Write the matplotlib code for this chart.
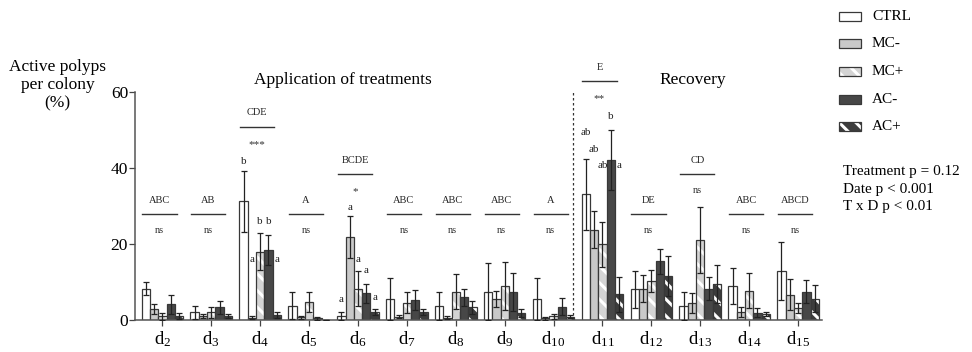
import numpy as np
import matplotlib
matplotlib.use("Agg")
import matplotlib.pyplot as plt
from matplotlib.patches import Rectangle

plt.rcParams['font.family'] = ['Liberation Serif', 'DejaVu Serif']
plt.rcParams['mathtext.fontset'] = 'custom'
plt.rcParams['mathtext.rm'] = 'Liberation Serif'
plt.rcParams['hatch.linewidth'] = 2.2

# ---------------- data ----------------
days = ['2', '3', '4', '5', '6', '7', '8', '9', '10', '11', '12', '13', '14', '15']
treatments = ['CTRL', 'MC-', 'MC+', 'AC-', 'AC+']

ctrl = [8.3, 2.0, 31.3, 3.8, 1.05, 5.6, 3.8, 7.5, 5.5, 33.1, 8.1, 3.8, 8.9, 12.9]
ctrl_err = [1.6, 1.8, 8.0, 3.5, 1.0, 5.5, 3.7, 7.4, 5.6, 9.3, 4.9, 3.7, 4.7, 7.7]
mc_neg = [2.9, 1.0, 0.6, 0.7, 21.8, 0.8, 0.6, 5.5, 0.5, 23.8, 8.3, 4.4, 2.2, 6.7]
mc_neg_err = [1.2, 0.5, 0.4, 0.4, 5.5, 0.4, 0.4, 2.1, 0.4, 4.9, 3.6, 2.6, 1.3, 4.0]
mc_pos = [1.0, 2.0, 18.0, 4.8, 8.3, 4.6, 7.5, 8.9, 1.0, 19.9, 10.3, 21.1, 7.7, 3.2]
mc_pos_err = [0.9, 1.5, 4.8, 2.7, 4.7, 2.7, 4.6, 6.3, 0.7, 5.9, 2.9, 8.7, 4.6, 1.4]
ac_neg = [4.1, 3.3, 18.4, 0.5, 7.0, 5.3, 6.0, 7.4, 3.5, 42.1, 15.5, 8.3, 1.9, 7.5]
ac_neg_err = [2.5, 1.7, 4.0, 0.4, 2.6, 2.7, 2.3, 5.1, 2.2, 7.9, 3.3, 2.9, 1.2, 3.0]
ac_pos = [1.0, 1.0, 1.3, 0.0, 2.2, 2.1, 3.4, 1.8, 0.9, 6.8, 11.5, 9.5, 1.6, 5.6]
ac_pos_err = [0.8, 0.5, 0.8, 0.0, 0.8, 0.8, 1.7, 1.1, 0.5, 4.6, 5.3, 5.0, 0.6, 3.5]

group_letters = ['ABC', 'AB', 'CDE', 'A', 'BCDE', 'ABC', 'ABC', 'ABC', 'A', 'E',
                 'DE', 'CD', 'ABC', 'ABCD']
significance = ['ns', 'ns', '***', 'ns', '*', 'ns', 'ns', 'ns', 'ns', '**',
                'ns', 'ns', 'ns', 'ns']
bracket_y = [27.8, 27.8, 50.9, 27.8, 38.4, 27.8, 27.8, 27.8, 27.8, 62.9,
             27.8, 38.4, 27.8, 27.8]

# post-hoc letters: (day index, treatment index, letter, height)
posthoc = [(2, 0, 'b', 41.8), (2, 1, 'a', 16.0), (2, 2, 'b', 25.9), (2, 3, 'b', 25.9), (2, 4, 'a', 16.0),
           (4, 0, 'a', 5.3), (4, 1, 'a', 29.6), (4, 2, 'a', 16.0), (4, 3, 'a', 13.0), (4, 4, 'a', 5.8),
           (9, 0, 'ab', 49.4), (9, 1, 'ab', 45.0), (9, 2, 'ab', 40.6), (9, 3, 'b', 53.5), (9, 4, 'a', 40.8)]

stats_lines = ['Treatment p = 0.12', 'Date p < 0.001', 'T x D p < 0.01']

# ---------------- style ----------------
series = [ctrl, mc_neg, mc_pos, ac_neg, ac_pos]
errors = [ctrl_err, mc_neg_err, mc_pos_err, ac_neg_err, ac_pos_err]
faces = ['white', '#c9c9c9', '#d4d4d4', '#474747', '#3c3c3c']
hatches = [None, None, '\\\\', None, '\\\\']
edge = '#383838'

W, H = 972, 352
fig = plt.figure(figsize=(W / 100, H / 100), dpi=100)
ax_l, ax_r, ax_b, ax_t = 135, 822, 320, 92.3
ax = fig.add_axes([ax_l / W, 1 - ax_b / H, (ax_r - ax_l) / W, (ax_b - ax_t) / H])

x = np.arange(len(days))
bw = 0.17
for i, (vals, errs) in enumerate(zip(series, errors)):
    pos = x + (i - 2) * bw
    if hatches[i]:
        ax.bar(pos, vals, bw, color=faces[i], edgecolor='white', hatch=hatches[i],
               linewidth=0, zorder=2)
        ax.bar(pos, vals, bw, color='none', edgecolor=edge, linewidth=0.9, zorder=2.5)
    else:
        ax.bar(pos, vals, bw, color=faces[i], edgecolor=edge, linewidth=0.9, zorder=2)
    ax.errorbar(pos, vals, yerr=errs, fmt='none', ecolor='#222222', elinewidth=0.9,
                capsize=2.2, capthick=0.9, zorder=3)

ax.set_xlim(-0.56, 13.49)
ax.set_ylim(0, 60)
ax.set_yticks([0, 20, 40, 60])
ax.set_xticks(x)
ax.set_xticklabels([r'$\mathregular{d_{%s}}$' % d for d in days])
ax.tick_params(axis='x', labelsize=13.5, length=4, width=0.9, color='#444444', pad=3)
ax.tick_params(axis='y', labelsize=12.5, length=4, width=0.9, color='#444444', pad=1)
for s in ['top', 'right']:
    ax.spines[s].set_visible(False)
for s in ['left', 'bottom']:
    ax.spines[s].set_color('#555555')
    ax.spines[s].set_linewidth(1.1)

# dashed separator
ax.axvline(8.4, color='#333333', linestyle=(0, (2, 2)), linewidth=0.9, zorder=1)

# group annotations
for i in range(len(days)):
    cx = x[i] - 0.06
    yb = bracket_y[i]
    ax.plot([cx - 0.35, cx + 0.35], [yb, yb], color='#333333', linewidth=1.0, clip_on=False)
    ax.text(cx, yb + 3.7, group_letters[i], ha='center', va='center', fontsize=7.5,
            color='#222222')
    sig = significance[i]
    ax.text(cx, yb - (4.2 if sig == 'ns' else 4.6), sig, ha='center', va='center',
            fontsize=7.5 if sig == 'ns' else 8, color='#333333')

for d, t, letter, yv in posthoc:
    z = 1.5 if (d == 9 and t == 2) else 4
    ax.text(x[d] + (t - 2) * bw, yv, letter, ha='center', va='center', fontsize=8,
            color='#222222', zorder=z)

# section titles
ax.text(3.7, 63.3, 'Application of treatments', ha='center', va='center', fontsize=12.5)
ax.text(10.85, 63.3, 'Recovery', ha='center', va='center', fontsize=12.5)

# y label
for k, line in enumerate(['Active polyps', 'per colony', '(%)']):
    fig.text(57.5 / W, 1 - (67 + 18 * k) / H, line, ha='center', va='center', fontsize=12.5)

# legend (manual)
for k, name in enumerate(treatments):
    yc = 16.3 + 27.6 * k
    r = Rectangle((839 / W, 1 - (yc + 4.5) / H), 22 / W, 9 / H, transform=fig.transFigure,
                  facecolor=faces[k], edgecolor='white' if hatches[k] else edge,
                  hatch=hatches[k], linewidth=0 if hatches[k] else 0.9)
    fig.add_artist(r)
    if hatches[k]:
        fig.add_artist(Rectangle((839 / W, 1 - (yc + 4.5) / H), 22 / W, 9 / H,
                                 transform=fig.transFigure, facecolor='none',
                                 edgecolor=edge, linewidth=0.9))
    fig.text(872 / W, 1 - yc / H, name, ha='left', va='center', fontsize=11)

for k, line in enumerate(stats_lines):
    fig.text(843 / W, 1 - (172 + 17.5 * k) / H, line, ha='left', va='center', fontsize=11)

fig.savefig('out.png', dpi=100, facecolor='white')
